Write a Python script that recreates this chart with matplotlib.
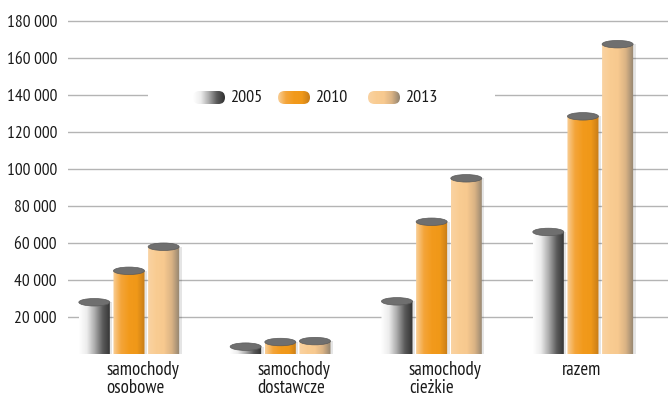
import numpy as np
import matplotlib
matplotlib.use('Agg')
import matplotlib.pyplot as plt
from matplotlib.colors import LinearSegmentedColormap
from matplotlib.patches import Ellipse, FancyBboxPatch, Rectangle
from matplotlib.path import Path
from matplotlib.patches import PathPatch
from matplotlib.ticker import FuncFormatter

# dane
categories = ['samochody\nosobowe', 'samochody\ndostawcze', 'samochody\ncieżkie', 'razem']
years = ['2005', '2010', '2013']
v2005 = [30000, 6000, 30500, 68000]
v2010 = [47000, 8500, 73500, 130500]
v2013 = [60000, 9000, 97000, 169500]
yticks = [20000, 40000, 60000, 80000, 100000, 120000, 140000, 160000, 180000]

plt.rcParams['font.family'] = ['PT Sans Narrow', 'DejaVu Sans']

W, H = 668, 398
fig = plt.figure(figsize=(W / 100, H / 100), dpi=100)
ax = fig.add_axes([68 / W, (H - 354) / H, 600 / W, 342.25 / H])

cmaps = [
    LinearSegmentedColormap.from_list('g', ['#ffffff', '#ececec', '#aaaaaa', '#5a5a5a', '#303030']),
    LinearSegmentedColormap.from_list('o', ['#f9cf98', '#f4a53a', '#f29a1c', '#f09818', '#c67c18']),
    LinearSegmentedColormap.from_list('l', ['#fad3a2', '#f9cc92', '#f7c98f', '#d9b284', '#8f826f']),
]
grad = np.linspace(0, 1, 256).reshape(1, -1)

x = np.arange(len(categories))
width = 0.205
step = 0.229
series = [v2005, v2010, v2013]

ax.set_xlim(-0.403, 3.562)
ax.set_ylim(0, 185000)

# jednostki danych na piksel
ppx = 185000 / 342.25
eh = 7.5 * ppx  # wysokość elipsy

for i, vals in enumerate(series):
    bars = ax.bar(x + (i - 1) * step, vals, width, color='none', zorder=3)
    for b in bars:
        x0 = b.get_x()
        w = b.get_width()
        top = b.get_height()
        cx = x0 + w / 2
        yc = top - eh / 2
        # cień
        sh = Rectangle((x0 + 2.5 / 151, 0), w, yc, facecolor='#000000', alpha=0.10,
                       edgecolor='none', zorder=2, clip_on=False)
        ax.add_patch(sh)
        # korpus walca z zaokrąglonym dołem
        t = np.linspace(np.pi, 2 * np.pi, 30)
        bx = cx + w / 2 * np.cos(t)
        by = eh / 2 * 0.6 * np.sin(t)
        verts = [(x0, yc)] + list(zip(bx, by)) + [(x0 + w, yc), (x0, yc)]
        codes = [Path.MOVETO] + [Path.LINETO] * (len(verts) - 2) + [Path.CLOSEPOLY]
        body = PathPatch(Path(verts, codes), facecolor='none', edgecolor='none', zorder=3)
        ax.add_patch(body)
        im = ax.imshow(grad, cmap=cmaps[i], extent=[x0, x0 + w, -eh, yc], aspect='auto',
                       zorder=3, interpolation='bilinear')
        im.set_clip_path(body)
        body.set_clip_on(False)
        # pokrywa
        ax.add_patch(Ellipse((cx, yc), w, eh, facecolor='#6f6f6f', edgecolor='#5a5a5a',
                             lw=0.5, zorder=4, clip_on=False))

ax.set_xlim(-0.403, 3.562)
ax.set_ylim(0, 185000)

ax.set_yticks(yticks)
ax.yaxis.set_major_formatter(FuncFormatter(lambda v, p: f'{int(v):,}'.replace(',', ' ')))
ax.tick_params(axis='y', length=0, pad=8, labelsize=12.5, labelcolor='#1a1a1a')
ax.set_xticks([])
ax.grid(axis='y', color='#b4b4b4', lw=1.0, zorder=0)
ax.set_axisbelow(True)
for s in ax.spines.values():
    s.set_visible(False)

# etykiety kategorii
offsets = [0.09, 0.09, 0.09, -0.01]
for xi, lab, off in zip(x, categories, offsets):
    ax.text(xi + off, -3800, lab, ha='center', va='top', multialignment='left',
            fontsize=13.5, color='#1a1a1a', linespacing=0.98, clip_on=False)

# legenda
lax = fig.add_axes([148 / W, (H - 110) / H, (495 - 148) / W, 24 / H])
lax.set_xlim(148, 495)
lax.set_ylim(110, 86)
lax.axis('off')
lax.add_patch(Rectangle((148, 86), 347, 24, facecolor='white', edgecolor='none', zorder=0))
lx = [193, 278, 368]
for i, yr in enumerate(years):
    im = lax.imshow(grad, cmap=cmaps[i], extent=[lx[i], lx[i] + 32, 104, 91], aspect='auto',
                    interpolation='bilinear', zorder=2)
    cap = FancyBboxPatch((lx[i], 91), 32, 13, boxstyle='round,pad=0,rounding_size=6.5',
                         facecolor='none', edgecolor='none')
    lax.add_patch(cap)
    im.set_clip_path(cap)
    lax.text(lx[i] + 37, 97.5, yr, ha='left', va='center', fontsize=13, color='#1a1a1a')
lax.set_xlim(148, 495)
lax.set_ylim(110, 86)

fig.savefig('out.png', dpi=100)
